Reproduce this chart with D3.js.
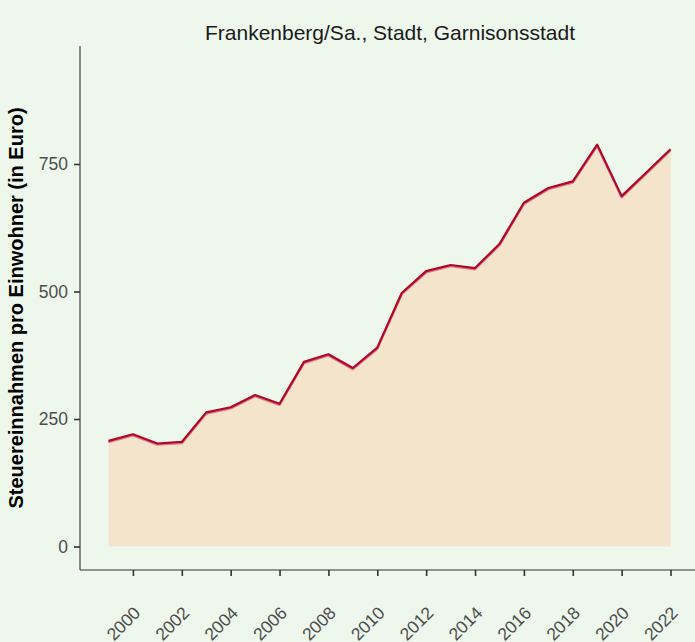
<!DOCTYPE html>
<html>
<head>
<meta charset="utf-8">
<script src="https://cdn.jsdelivr.net/npm/d3@7"></script>
<style>
  body { margin: 0; background: #eef7ec; }
  svg { display: block; font-family: "Liberation Sans", Arial, sans-serif; }
</style>
</head>
<body>
<svg id="chart" width="695" height="642"></svg>
<script>
// Data
var years = [1999, 2000, 2001, 2002, 2003, 2004, 2005, 2006, 2007, 2008, 2009, 2010,
             2011, 2012, 2013, 2014, 2015, 2016, 2017, 2018, 2019, 2020, 2021, 2022];
var values = [207, 220, 202, 205, 263, 273, 297, 280, 362, 377, 350, 390,
              497, 540, 552, 546, 593, 674, 703, 716, 788, 687, 733, 779];
var xTicks = [2000, 2002, 2004, 2006, 2008, 2010, 2012, 2014, 2016, 2018, 2020, 2022];
var yTicks = [0, 250, 500, 750];
var title = "Frankenberg/Sa., Stadt, Garnisonsstadt";
var yTitle = "Steuereinnahmen pro Einwohner (in Euro)";

var W = 695, H = 642;
var panel = { left: 80, right: 695, top: 46, bottom: 570 };
var tickFont = "17.5px";

var svg = d3.select("#chart");
svg.append("rect").attr("width", W).attr("height", H).attr("fill", "#eef7ec");

// 1999 -> 108.5px, 2022 -> 670.5px
var x = d3.scaleLinear().domain([1999, 2022]).range([108.5, 670.5]);
// 0 -> 546.5px, 750 -> 164px
var y = d3.scaleLinear().domain([0, 750]).range([546.5, 164]);

var data = years.map(function (yr, i) { return { year: yr, value: values[i] }; });

var area = d3.area()
    .x(function (d) { return x(d.year); })
    .y0(y(0))
    .y1(function (d) { return y(d.value); });

var line = d3.line()
    .x(function (d) { return x(d.year); })
    .y(function (d) { return y(d.value); });

svg.append("path").datum(data).attr("d", area).attr("fill", "#f5e4cc");

// soft shadow under the line
svg.append("path").datum(data).attr("d", line)
    .attr("transform", "translate(0,1.2)")
    .attr("fill", "none").attr("stroke", "#dc7a86").attr("stroke-width", 2.3)
    .attr("stroke-linejoin", "round");
svg.append("path").datum(data).attr("d", line)
    .attr("fill", "none").attr("stroke", "#b0062a").attr("stroke-width", 2.2)
    .attr("stroke-linejoin", "round");

// y axis
var yAxis = d3.axisLeft(y).tickValues(yTicks).tickSize(6).tickPadding(6);
var gy = svg.append("g").attr("transform", "translate(" + panel.left + ",0)").call(yAxis);
gy.attr("font-size", null).attr("font-family", null);
gy.select(".domain").remove();
gy.append("line").attr("x1", 0).attr("x2", 0).attr("y1", panel.top).attr("y2", panel.bottom)
    .attr("stroke", "#333").attr("stroke-width", 1.1);
gy.selectAll(".tick line").attr("stroke", "#333").attr("stroke-width", 1.6);
gy.selectAll(".tick text").attr("fill", "#4d4d4d").style("font-size", tickFont);

// x axis
var xAxis = d3.axisBottom(x).tickValues(xTicks).tickSize(6).tickFormat(d3.format("d"));
var gx = svg.append("g").attr("transform", "translate(0," + panel.bottom + ")").call(xAxis);
gx.attr("font-size", null).attr("font-family", null);
gx.select(".domain").remove();
gx.append("line").attr("x1", panel.left).attr("x2", panel.right).attr("y1", 0).attr("y2", 0)
    .attr("stroke", "#333").attr("stroke-width", 1.1);
gx.selectAll(".tick line").attr("stroke", "#333").attr("stroke-width", 1.6);
gx.selectAll(".tick text")
    .attr("fill", "#4d4d4d").style("font-size", tickFont)
    .attr("text-anchor", "end")
    .attr("dy", null)
    .attr("y", null)
    .attr("transform", "translate(8,44) rotate(-45)");

// titles
svg.append("text").attr("x", 390).attr("y", 40).attr("text-anchor", "middle")
    .style("font-size", "21px").attr("fill", "#1a1a1a").text(title);

svg.append("text")
    .attr("transform", "translate(23," + ((panel.top + panel.bottom) / 2) + ") rotate(-90)")
    .attr("text-anchor", "middle")
    .style("font-size", "20px").style("font-weight", "bold").attr("fill", "#000")
    .text(yTitle);
</script>
</body>
</html>
